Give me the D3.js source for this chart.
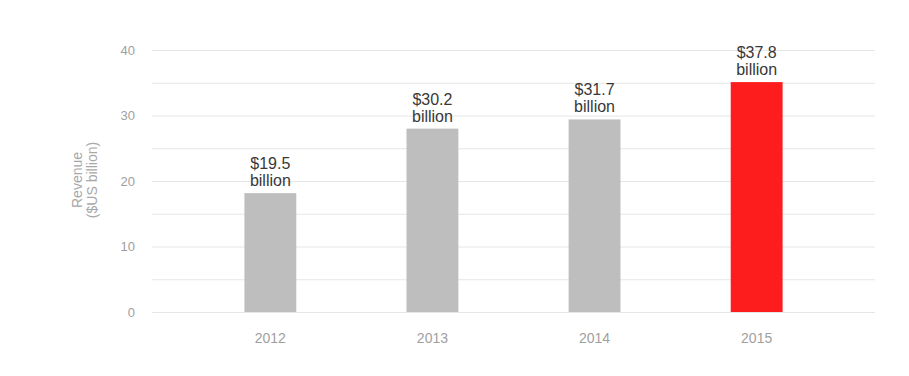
<!DOCTYPE html>
<html><head><meta charset="utf-8">
<script src="https://cdn.jsdelivr.net/npm/d3@7"></script>
<style>body{margin:0;background:#fff;}text{font-family:"Liberation Sans",Arial,sans-serif;}</style>
</head><body><svg id="c" width="909" height="376"></svg>
<script>
const years = ["2012","2013","2014","2015"];
const values = [18.15, 28.0, 29.4, 35.1];
const labels = ["$19.5", "$30.2", "$31.7", "$37.8"];
const yTicks = [0,10,20,30,40];
const gridTicks = [0,5,10,15,20,25,30,35,40];
const svg = d3.select("#c");
const x = d3.scaleBand().domain(years).range([152,875]).paddingInner(0.68).paddingOuter(0.57);
const y = d3.scaleLinear().domain([0,40]).range([312,50]);
svg.append("g").selectAll("line").data(gridTicks).join("line")
  .attr("x1",152).attr("x2",875).attr("y1",d=>y(d)+0.5).attr("y2",d=>y(d)+0.5)
  .attr("stroke","#e6e6e6").attr("stroke-width",1);
const ya = svg.append("g").attr("transform","translate(135,0)")
  .call(d3.axisLeft(y).tickValues(yTicks).tickSize(0).tickPadding(0));
ya.select(".domain").remove();
ya.selectAll("text").attr("fill","#a0a0a0").attr("font-size",13).attr("font-family","Liberation Sans, Arial, sans-serif");
const xa = svg.append("g").attr("transform","translate(0,312)")
  .call(d3.axisBottom(x).tickSize(0).tickPadding(21));
xa.select(".domain").remove();
xa.selectAll("text").attr("fill","#a0a0a0").attr("font-size",14).attr("font-family","Liberation Sans, Arial, sans-serif");
svg.append("g").selectAll("rect").data(years).join("rect")
  .attr("x",d=>x(d)).attr("width",x.bandwidth())
  .attr("y",(d,i)=>y(values[i])).attr("height",(d,i)=>y(0)-y(values[i]))
  .attr("fill",(d,i)=>i===3?"#fd1d1d":"#bebebe");
const lg = svg.append("g").selectAll("text").data(years).join("text")
  .attr("text-anchor","middle").attr("fill","#383838").attr("font-size",16)
  .attr("x",d=>x(d)+x.bandwidth()/2).attr("y",(d,i)=>y(values[i])-24);
lg.append("tspan").text((d,i)=>labels[i]);
lg.append("tspan").attr("x",d=>x(d)+x.bandwidth()/2).attr("dy",17).text("billion");
const t = svg.append("text").attr("transform","translate(0,180) rotate(-90)")
  .attr("text-anchor","middle").attr("fill","#a8a8a8").attr("font-size",14);
t.append("tspan").attr("x",0).attr("y",82).text("Revenue");
t.append("tspan").attr("x",0).attr("y",97).text("($US billion)");
</script></body></html>
